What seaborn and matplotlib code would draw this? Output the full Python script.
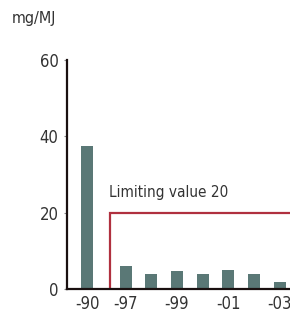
import matplotlib
matplotlib.use("Agg")
import matplotlib.pyplot as plt
import seaborn as sns
import pandas as pd

# Data
years = ["-90", "-97", "-98", "-99", "-00", "-01", "-02", "-03"]
values = [37.5, 6.0, 4.0, 4.7, 4.0, 5.0, 4.0, 1.8]
shown_ticks = ["-90", "-97", "-99", "-01", "-03"]
limit_value = 20
limit_label = "Limiting value 20"
unit_label = "mg/MJ"
yticks = [0, 20, 40, 60]

sns.set_style("white")
plt.rcParams['font.family'] = ['DejaVu Sans']
plt.rcParams['font.stretch'] = 'condensed'

# slot positions: a gap after the first bar
pos = [i + (0.5 if i > 0 else 0.0) for i in range(len(years))]
df = pd.DataFrame({"pos": pos, "value": values, "year": years})

fig = plt.figure(figsize=(2.9, 3.13), dpi=100)
ax = fig.add_axes([67/290, 24/313, 223/290, 229/313])

sns.barplot(data=df, x="pos", y="value", native_scale=True, color="#5a7876",
            width=0.47, saturation=1, ax=ax, edgecolor="none")

# limiting value line
lim_x = 0.9
ax.plot([lim_x, lim_x, 10], [0, limit_value, limit_value], color="#b0303f",
        lw=1.6, solid_joinstyle="miter", clip_on=True)
ax.text(lim_x - 0.05, limit_value + 3.2, limit_label, fontsize=11, color="#333333",
        ha="left", va="bottom")

ax.set_xlim(-0.78, 7.9)
ax.set_ylim(0, 60)
ax.set_yticks(yticks)
ax.set_yticklabels([str(t) for t in yticks], fontsize=12, color="#333333")
tick_pos = [p for p, y in zip(pos, years) if y in shown_ticks]
ax.set_xticks(tick_pos)
ax.set_xticklabels(shown_ticks, fontsize=12, color="#333333")
ax.tick_params(axis="x", length=0, pad=4.5)
ax.tick_params(axis="y", length=2, width=0.8, color="#888888", pad=4, left=True)
ax.set_xlabel("")
ax.set_ylabel("")

for s in ["top", "right"]:
    ax.spines[s].set_visible(False)
for s in ["left", "bottom"]:
    ax.spines[s].set_visible(True)
    ax.spines[s].set_color("#1a1010")
    ax.spines[s].set_linewidth(1.6)

fig.text(12/290, 1 - 18/313, unit_label, fontsize=11.5, color="#333333",
         ha="left", va="center")

fig.savefig("out.png", dpi=100)
